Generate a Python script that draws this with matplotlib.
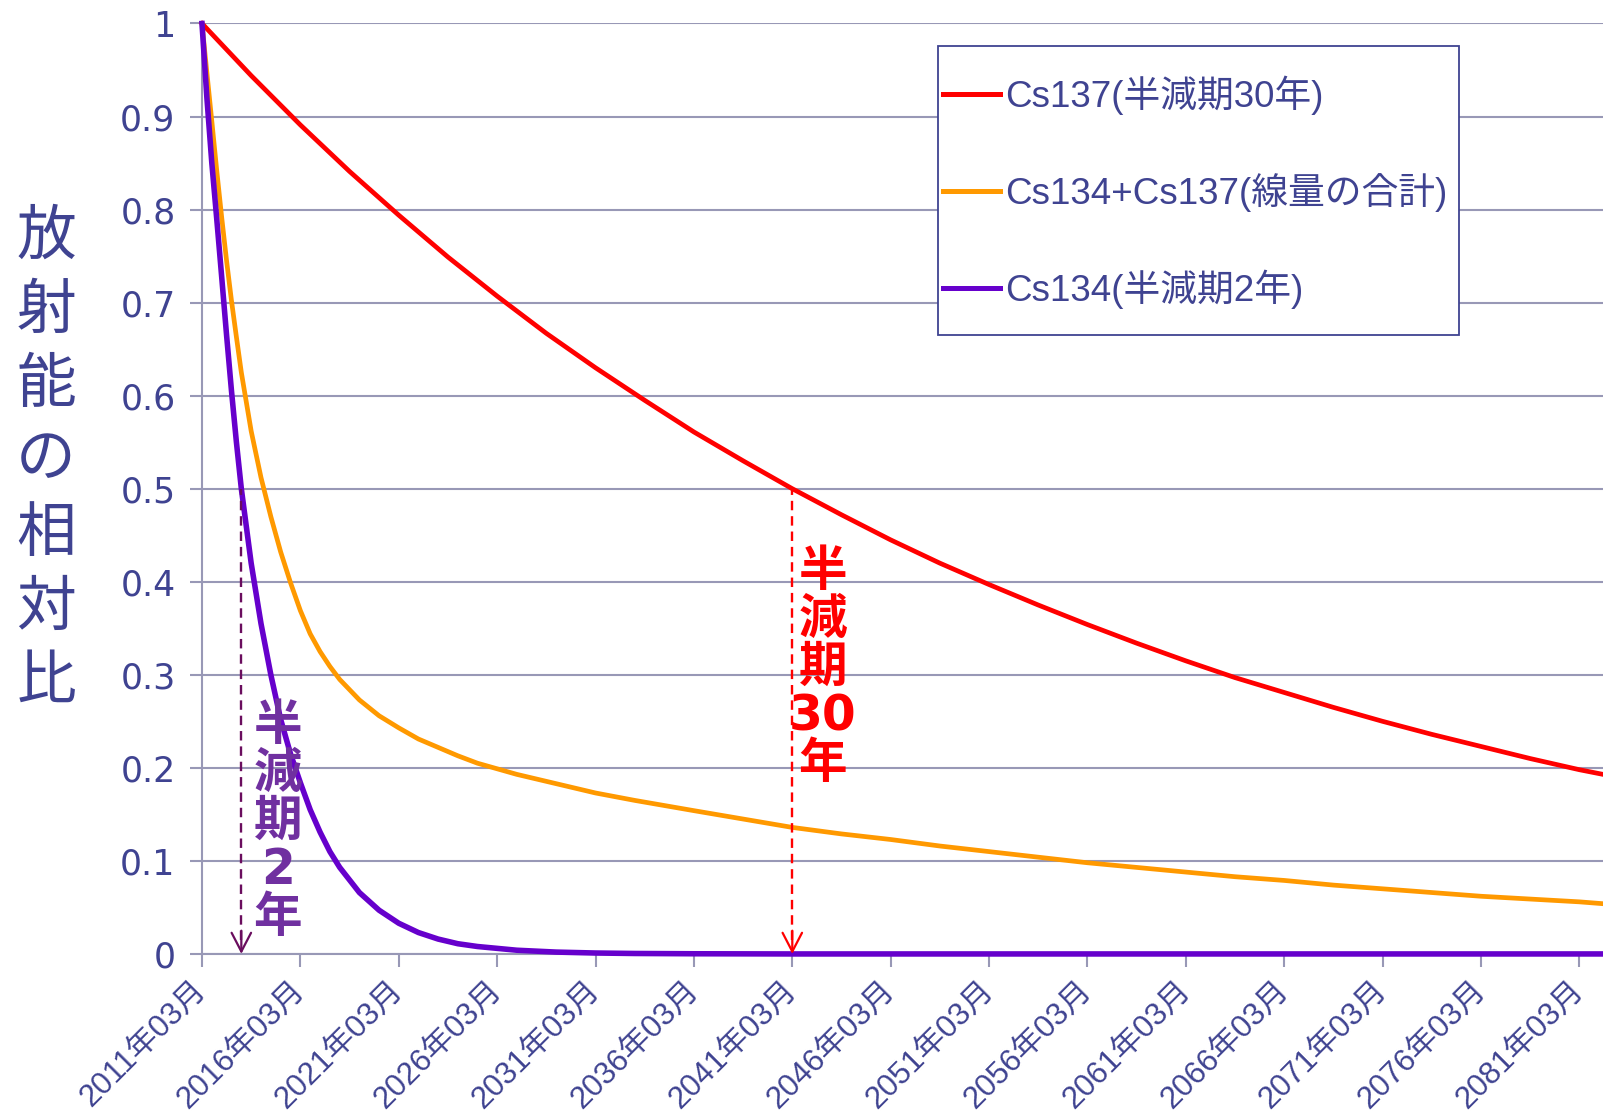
import matplotlib
matplotlib.use('Agg')
import matplotlib.pyplot as plt
from matplotlib.patches import Rectangle

plt.rcParams['font.family'] = ['Liberation Sans', 'Noto Sans CJK JP', 'DejaVu Sans']

NAVY = '#3F4391'
GRID = '#9898B6'

# years elapsed since 2011/03
cs137_t = [0, 2.5, 5, 7.5, 10, 12.5, 15, 17.5, 20, 22.5, 25, 27.5, 30, 32.5,
           35, 37.5, 40, 42.5, 45, 47.5, 50, 52.5, 55, 57.5, 60, 62.5, 65,
           67.5, 70, 71.2]
cs137 = [1.0, 0.944, 0.891, 0.841, 0.794, 0.749, 0.707, 0.667, 0.63, 0.595,
         0.561, 0.53, 0.50, 0.472, 0.445, 0.42, 0.397, 0.375, 0.354, 0.334,
         0.315, 0.297, 0.281, 0.265, 0.25, 0.236, 0.223, 0.21, 0.198, 0.193]

mix_t = [0, 0.25, 0.5, 0.75, 1, 1.25, 1.5, 1.75, 2, 2.5, 3, 3.5, 4, 4.5, 5,
         5.5, 6, 6.5, 7, 8, 9, 10, 11, 12, 13, 14, 15, 16, 18, 20, 22, 25,
         27.5, 30, 32.5, 35, 37.5, 40, 42.5, 45, 47.5, 50, 52.5, 55, 57.5,
         60, 62.5, 65, 67.5, 70, 71.2]
mix = [1.0, 0.947, 0.895, 0.842, 0.792, 0.745, 0.702, 0.663, 0.625, 0.562,
       0.512, 0.47, 0.432, 0.399, 0.369, 0.344, 0.325, 0.309, 0.295, 0.273,
       0.256, 0.243, 0.231, 0.222, 0.213, 0.205, 0.199, 0.193, 0.183, 0.173,
       0.165, 0.154, 0.145, 0.136, 0.129, 0.123, 0.116, 0.11, 0.104, 0.098,
       0.093, 0.088, 0.083, 0.079, 0.074, 0.07, 0.066, 0.062, 0.059, 0.056,
       0.054]

cs134_t = [0, 0.25, 0.5, 0.75, 1, 1.25, 1.5, 1.75, 2, 2.5, 3, 3.5, 4, 4.5, 5,
           5.5, 6, 6.5, 7, 8, 9, 10, 11, 12, 13, 14, 16, 18, 20, 22, 25, 30,
           71.2]
cs134 = [1.0, 0.92, 0.85, 0.79, 0.728, 0.665, 0.605, 0.55, 0.50, 0.42, 0.355,
         0.30, 0.252, 0.215, 0.184, 0.155, 0.131, 0.11, 0.093, 0.066, 0.047,
         0.033, 0.023, 0.016, 0.011, 0.008, 0.004, 0.002, 0.001, 0.0005,
         0.0002, 0.0, 0.0]

tick_years = list(range(2011, 2082, 5))
tick_labels = [f'{y}年03月' for y in tick_years]

half_life_137 = 30
half_life_134 = 2

fig = plt.figure(figsize=(16.03, 11.19), dpi=100)
ax = fig.add_axes([0.126, 0.1475, 0.874, 0.8315])

ax.plot(cs137_t, cs137, color='#FF0000', lw=3.4, label='Cs137(半減期30年)',
        clip_on=False, zorder=3)
ax.plot(mix_t, mix, color='#FF9900', lw=3.4, label='Cs134+Cs137(線量の合計)',
        clip_on=False, zorder=3)
ax.plot(cs134_t, cs134, color='#6600CC', lw=4.0, label='Cs134(半減期2年)',
        clip_on=False, zorder=4)

# half-life markers: dashed drop line with an open arrow head
for hl, col in [(half_life_137, '#FF0000'), (half_life_134, '#6A0D5E')]:
    ax.vlines(hl, 0.015, 0.5, colors=col, linestyles=(0, (4, 2.5)), lw=1.7, zorder=5)
    ax.annotate('', xy=(hl, 0), xytext=(hl, 0.025),
                arrowprops=dict(arrowstyle='->,head_width=0.7,head_length=1.35',
                                color=col, lw=1.6, shrinkA=0, shrinkB=0),
                zorder=5)

bold_font = ['DejaVu Sans', 'Noto Sans CJK JP']
ax.text(31.55, 0.307, '半\n減\n期\n30\n年', color='#FF0000', fontsize=35,
        fontweight='bold', ha='center', va='center', linespacing=1.0,
        family=bold_font, zorder=6)
ax.text(3.86, 0.142, '半\n減\n期\n2\n年', color='#7030A0', fontsize=35,
        fontweight='bold', ha='center', va='center', linespacing=1.0,
        family=bold_font, zorder=6)

ax.set_xlim(0, 71.2)
ax.set_ylim(0, 1)
ax.set_yticks([i / 10 for i in range(11)])
ax.set_yticklabels(['0'] + [f'0.{i}' for i in range(1, 10)] + ['1'],
                   family='DejaVu Sans', fontsize=25, color=NAVY)
ax.set_xticks([y - 2011 for y in tick_years])
ax.set_xticklabels(tick_labels, rotation=45, ha='right', va='center',
                   rotation_mode='anchor', fontsize=22.5, color=NAVY)
ax.tick_params(axis='both', color=GRID, width=1.5, length=9)
ax.tick_params(axis='x', pad=14)
ax.tick_params(axis='y', pad=10)

ax.grid(axis='y', color=GRID, lw=1.5)
ax.set_axisbelow(True)
for side in ['top', 'right']:
    ax.spines[side].set_visible(False)
for side in ['left', 'bottom']:
    ax.spines[side].set_color(GRID)
    ax.spines[side].set_linewidth(1.5)

fig.text(0.0287, 0.589, '放\n射\n能\nの\n相\n対\n比', color=NAVY, fontsize=43,
         ha='center', va='center', linespacing=1.28,
         family=['Noto Sans CJK JP'])

leg = ax.legend(loc='upper left', bbox_to_anchor=(0.529, 0.944),
                fontsize=26.5, labelcolor=NAVY, frameon=False,
                handlelength=1.55, handletextpad=0.14,
                labelspacing=1.575, borderpad=0, borderaxespad=0)
for h in leg.get_lines():
    h.set_linewidth(3.6)
ax.add_patch(Rectangle((0.525, 0.6652), 0.3722, 0.3106, transform=ax.transAxes,
                       fill=True, facecolor='white', edgecolor=NAVY, lw=1.3,
                       zorder=7))
leg.set_zorder(8)

fig.savefig('out.png', dpi=100, facecolor='white')
